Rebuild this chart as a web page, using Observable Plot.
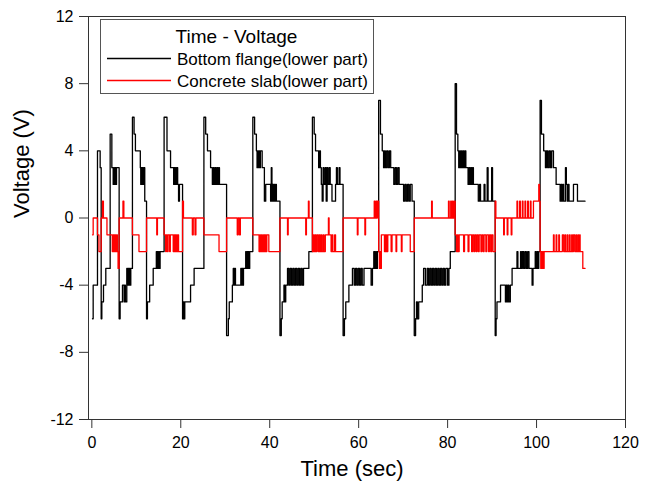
<!DOCTYPE html>
<html>
<head>
<meta charset="utf-8">
<script src="https://cdn.jsdelivr.net/npm/d3@7"></script>
<script src="https://cdn.jsdelivr.net/npm/@observablehq/plot@0.6"></script>
<style>
  html, body { margin: 0; padding: 0; background: #fff; }
  #chart { position: relative; width: 655px; height: 482px; }
</style>
</head>
<body>
<div id="chart"></div>
<script>
// ---- data ----
const seriesNames = ["Bottom flange(lower part)", "Concrete slab(lower part)"];
const seriesColors = ["#000000", "#ff0000"];
const legendTitle = "Time - Voltage";
const xLabel = "Time (sec)";
const yLabel = "Voltage (V)";
const xTicks = [0, 20, 40, 60, 80, 100, 120];
const yTicks = [-12, -8, -4, 0, 4, 8, 12];

// Bottom flange: time (s) of each step and value held from that time
const blackTime = [
  0.15,0.3,1.27,1.87,2.1,2.25,2.62,3.14,
  4.12,4.5,4.8,4.95,5.1,5.25,5.4,5.55,6.14,6.36,6.89,7.26,7.4,7.55,7.86,8.0,8.15,8.3,8.45,8.6,8.76,
  9.13,9.5,9.8,10.9,11.0,11.1,11.2,11.3,11.4,11.5,11.6,11.75,11.9,12.3,12.5,13.0,13.8,14.5,14.6,14.75,14.9,15.05,15.2,15.35,
  16.25,16.9,17.7,18.4,18.55,18.7,18.85,19.0,19.15,19.3,19.5,19.7,20.4,20.6,20.75,20.9,22.2,23.0,
  25.2,25.6,26.0,26.7,27.1,27.3,27.5,27.7,27.9,28.1,28.3,28.5,28.7,30.3,30.7,30.9,31.6,31.8,31.95,32.1,32.3,33.5,33.65,33.8,33.95,34.1,34.6,34.75,34.9,35.05,35.2,35.35,35.5,
  36.2,36.6,37.0,37.15,37.3,37.45,37.6,37.75,37.9,38.3,38.8,39.1,40.2,40.35,40.5,40.65,40.8,40.95,41.1,41.3,41.5,42.3,42.6,42.8,43.2,43.4,43.6,44.0,44.3,44.6,44.9,45.2,45.5,45.8,46.1,46.4,46.7,47.0,47.3,47.6,48.8,
  49.6,50.0,50.3,51.0,51.2,51.4,51.6,51.8,52.0,52.2,52.5,52.7,52.9,53.1,53.4,53.6,54.0,54.8,55.0,55.2,55.6,55.8,56.5,56.8,57.1,57.8,58.6,59.0,59.3,59.6,59.9,60.2,60.5,60.8,61.2,62.8,63.1,63.4,63.6,63.8,64.0,64.2,
  64.5,64.9,65.3,65.6,65.8,66.0,66.3,66.6,66.9,67.2,67.9,68.2,68.5,68.8,69.1,70.1,70.4,70.7,71.0,71.3,71.6,72.0,72.5,72.8,73.0,73.2,73.5,74.3,74.6,75.0,75.4,75.7,76.0,76.3,76.6,76.9,77.2,77.5,77.8,78.1,78.4,78.7,79.0,79.3,79.6,80.0,80.3,80.6,
  81.7,82.0,82.3,82.5,82.7,82.9,83.1,83.3,83.5,83.7,83.9,84.1,84.6,84.8,85.0,85.2,85.4,85.6,85.8,86.9,87.2,87.4,88.2,88.4,88.9,89.1,89.9,90.1,90.7,90.9,91.1,91.9,93.0,93.2,93.4,93.6,93.8,94.1,94.5,95.6,95.8,96.4,96.6,96.8,97.1,97.4,97.7,98.0,98.3,99.0,99.2,99.7,99.9,100.1,100.3,100.5,
  100.8,101.1,101.6,102.0,102.2,102.5,102.8,103.1,103.4,103.8,104.4,105.3,105.5,105.7,105.9,106.1,106.5,106.7,106.9,107.1,107.3,108.3,109.2,110.9
];
const blackVolt = [
  -6,-4,4,3,-6,-5,-4,-3,
  5,3,2,3,2,3,2,3,-6,-5,-4,-5,-4,-5,-3,-4,-3,-4,-3,-4,-3,
  6,5,4,3,2,3,2,3,2,3,2,3,1,-6,-5,-4,-3,-2,-3,-2,-3,-2,-3,-2,
  6,4,3,2,3,2,3,2,3,2,1,2,-6,-5,-6,-5,-4,-3,
  6,5,4,3,2,3,2,3,2,3,2,3,2,-7,-6,-5,-4,-3,-4,-3,-4,-3,-4,-3,-4,-3,-2,-3,-2,-3,-2,-3,-2,
  6,5,4,3,4,3,4,3,4,3,1,2,1,3,1,2,1,2,1,2,1,-7,-6,-5,-4,-5,-4,-3,-4,-3,-4,-3,-4,-3,-4,-3,-4,-3,-4,-3,-2,
  6,5,4,3,4,3,2,1,3,2,3,1,3,2,3,2,1,2,3,2,3,2,-7,-6,-5,-4,-3,-4,-3,-4,-3,-4,-3,-4,-3,-4,-3,-2,-3,-2,-3,-2,
  7,5,4,3,4,3,4,3,4,3,2,3,2,3,2,1,2,1,2,1,2,1,-7,-6,-5,-6,-5,-4,-3,-4,-3,-4,-3,-4,-3,-4,-3,-4,-3,-4,-3,-4,-3,-4,-3,-4,-3,-2,
  8,5,4,3,4,3,4,3,4,3,4,3,2,3,2,3,2,3,2,1,2,1,2,1,3,1,3,1,-7,-6,-5,-4,-5,-4,-5,-4,-5,-4,-3,-2,-3,-2,-3,-2,-3,-2,-3,-2,-3,-4,-3,-2,-3,-2,-3,-2,
  7,5,4,3,4,3,4,3,4,3,2,1,2,1,2,1,3,2,1,2,1,2,1,1
];

// Concrete slab: time (s) of each step and value held from that time
const redTime = [
  0.15,0.3,1.27,1.6,2.1,2.4,2.6,3.4,4.6,4.75,4.9,5.0,5.15,5.3,5.45,5.6,5.75,5.9,6.14,7.0,7.2,
  9.13,10.6,12.3,14.6,14.75,
  16.25,16.6,16.75,17.0,17.15,17.5,17.65,18.3,18.45,18.6,18.75,18.9,19.05,19.2,19.35,19.5,20.4,20.6,22.6,22.8,23.2,23.4,
  25.2,28.6,30.3,32.7,32.9,33.2,33.4,
  36.2,37.6,37.75,37.9,38.05,38.2,38.4,38.6,38.75,38.9,39.05,39.2,39.35,39.8,42.3,44.0,44.15,48.1,48.25,48.7,48.85,
  49.6,49.8,50.0,50.2,50.4,50.6,50.9,51.1,51.3,51.5,51.7,52.0,52.2,52.5,53.2,53.35,53.8,54.0,54.2,54.6,54.8,56.5,59.7,59.85,61.4,61.55,63.5,63.65,63.9,64.05,64.2,
  64.5,64.65,64.8,64.95,65.1,65.8,65.95,66.1,66.25,66.4,66.55,67.3,67.5,68.4,68.55,69.6,69.75,71.6,72.5,76.4,76.55,80.2,80.35,80.7,80.85,81.1,81.25,81.5,
  81.7,82.0,82.2,82.4,82.6,83.6,83.8,84.6,84.8,85.4,85.6,85.9,86.1,86.4,86.6,86.9,87.1,87.5,87.7,88.0,88.2,88.6,88.8,89.2,89.4,89.7,89.9,90.2,
  90.7,90.85,92.6,92.75,93.4,93.55,94.3,94.45,95.6,95.75,96.2,96.35,96.8,96.95,97.4,97.55,98.0,98.15,98.6,98.75,99.3,100.5,100.65,
  100.8,100.95,101.1,101.25,101.4,101.55,101.7,103.8,103.95,104.4,104.55,105.0,105.15,105.8,106.1,106.4,106.55,106.9,107.05,107.4,107.55,107.9,108.05,108.3,108.6,108.9,109.0,109.3,109.45,109.7,109.8,110.4,110.9
];
const redVolt = [
  -1,0,-1,-2,0,1,0,-1,-2,-1,-2,-1,-2,-1,-2,-1,-2,-3,0,1,0,
  -1,-2,0,-1,0,
  -1,-2,-1,-2,-1,-2,-1,-2,-1,-2,-1,-2,-1,-2,-1,-2,1,0,-1,0,-1,0,
  -1,-2,0,-1,0,-1,0,
  -1,-2,-1,-2,-1,-2,-1,-2,-1,-2,-1,-2,-1,-2,0,-1,0,-1,0,1,0,
  -2,-1,-2,-1,-2,-1,-2,-1,-2,-1,-2,-1,-2,-1,0,-1,-2,-1,-2,-1,-2,0,-1,0,-1,0,1,0,1,0,1,
  -2,-3,-2,-3,-1,-2,-1,-2,-1,-2,-1,-2,-1,-2,-1,-2,-1,-2,0,1,0,1,0,1,0,1,0,1,
  -1,-2,-1,-2,-1,-2,-1,-2,-1,-2,-1,-2,-1,-2,-1,-2,-1,-2,-1,-2,-1,-2,-1,-2,-1,-2,-1,-2,
  1,0,-1,0,-1,0,-1,0,1,0,1,0,1,0,1,0,1,0,1,0,1,2,1,
  -2,-3,-2,-3,-2,-3,-2,-1,-2,-1,-2,-1,-2,-1,-2,-1,-2,-1,-2,-1,-2,-1,-2,-1,-2,-1,-2,-1,-2,-1,-2,-3,-3
];

// ---- build rows ----
const blackRows = blackTime.map((t, i) => ({t, v: blackVolt[i], s: seriesNames[0]}));
const redRows = redTime.map((t, i) => ({t, v: redVolt[i], s: seriesNames[1]}));

const font = "'Liberation Sans', Arial, Helvetica, sans-serif";

const chart = Plot.plot({
  width: 655,
  height: 482,
  marginLeft: 88,
  marginRight: 30,
  marginTop: 16,
  marginBottom: 63,
  style: {fontFamily: font, fontSize: "16px", color: "#000", background: "#fff"},
  x: {domain: [-0.75, 120]},
  y: {domain: [-12, 12]},
  marks: [
    Plot.lineY(blackRows, {x: "t", y: "v", curve: "step-after", stroke: seriesColors[0], strokeWidth: 1.3}),
    Plot.lineY(redRows, {x: "t", y: "v", curve: "step-after", stroke: seriesColors[1], strokeWidth: 1.3}),
    Plot.frame({stroke: "#333", strokeWidth: 1}),
    Plot.axisX({ticks: xTicks, tickSize: 9, tickPadding: 8, label: null, stroke: "#333", fontSize: 16}),
    Plot.axisY({ticks: yTicks, tickSize: 9, tickPadding: 6, label: null, stroke: "#333", fontSize: 16, tickFormat: d => String(d)}),
    Plot.text([xLabel], {text: d => d, frameAnchor: "bottom", dy: 56, dx: -5, lineAnchor: "bottom", fontSize: 22, fill: "#000"}),
    Plot.text([yLabel], {text: d => d, frameAnchor: "left", dx: -75, rotate: -90, lineAnchor: "top", fontSize: 22, fill: "#000"})
  ]
});

document.getElementById("chart").appendChild(chart);

// ---- legend box inside the plot area ----
const svg = d3.select(chart);
const lg = svg.append("g").attr("font-family", font).attr("fill", "#000");
lg.append("rect").attr("x", 100.5).attr("y", 19.5).attr("width", 273).attr("height", 74)
  .attr("fill", "#fff").attr("stroke", "#555").attr("stroke-width", 1);
lg.append("text").attr("x", 236.5).attr("y", 43).attr("text-anchor", "middle")
  .attr("font-size", 19).text(legendTitle);
seriesNames.forEach((name, i) => {
  const yy = 58.5 + i * 22;
  lg.append("line").attr("x1", 107).attr("x2", 171).attr("y1", yy).attr("y2", yy)
    .attr("stroke", seriesColors[i]).attr("stroke-width", 1.5);
  lg.append("text").attr("x", 177).attr("y", yy + 6).attr("text-anchor", "start")
    .attr("font-size", 17).text(name);
});
</script>
</body>
</html>
